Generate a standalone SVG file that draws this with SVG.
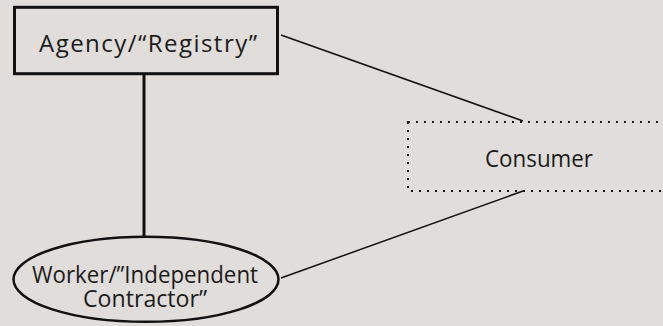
<svg xmlns="http://www.w3.org/2000/svg" width="663" height="326" viewBox="0 0 663 326">
<style>
.lbl{font-family:"Open Sans","Liberation Sans",sans-serif;font-size:24px;fill:#1c1c1c;text-anchor:middle}
.conn{stroke:#111;stroke-width:1.5;fill:none}
</style>
<rect x="0" y="0" width="663" height="326" fill="#e0ddda"/>
<g id="connectors">
<line x1="144" y1="74" x2="144" y2="236" stroke="#111" stroke-width="3"/>
<line class="conn" x1="281" y1="35" x2="523" y2="121"/>
<line class="conn" x1="523" y1="191" x2="281" y2="278"/>
</g>
<g id="agency">
<rect x="14.5" y="7.3" width="263" height="66.4" fill="none" stroke="#111" stroke-width="3"/>
<text class="lbl" x="148" y="52" textLength="218" lengthAdjust="spacing">Agency/“Registry”</text>
</g>
<g id="consumer">
<rect x="408" y="122" width="320" height="69" fill="none" stroke="#111" stroke-width="2" stroke-dasharray="2 6"/>
<text class="lbl" x="539" y="166.5" textLength="108" lengthAdjust="spacingAndGlyphs">Consumer</text>
</g>
<g id="worker">
<ellipse cx="146" cy="279.3" rx="132.5" ry="42.5" fill="none" stroke="#111" stroke-width="2.5"/>
<text class="lbl" x="145" y="283" textLength="226" lengthAdjust="spacingAndGlyphs">Worker/”Independent</text>
<text class="lbl" x="145" y="307" textLength="124" lengthAdjust="spacingAndGlyphs">Contractor”</text>
</g>
</svg>
